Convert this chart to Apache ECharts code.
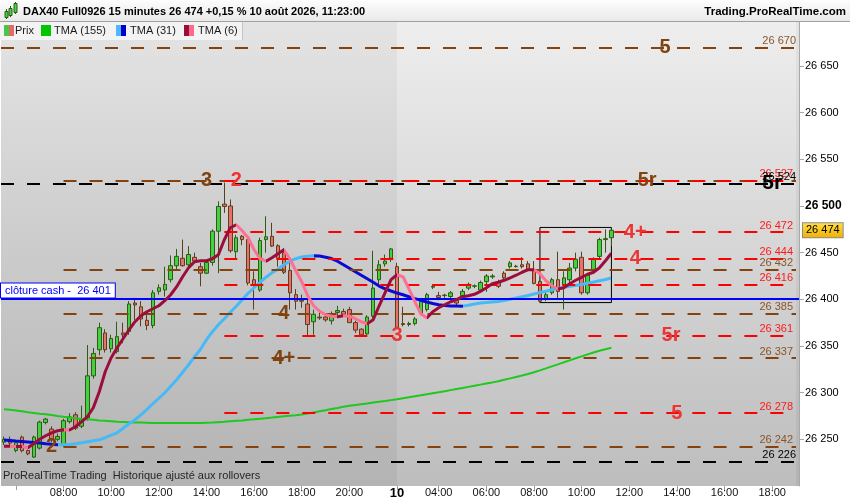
<!DOCTYPE html>
<html><head><meta charset="utf-8">
<script src="https://cdn.jsdelivr.net/npm/echarts@6/dist/echarts.min.js"></script>
<style>html,body{margin:0;padding:0;background:#fff}#c{width:850px;height:500px}</style>
</head><body><div id="c"></div>
<script>
const FONT = '"Liberation Sans", Arial, sans-serif';

// ---------- time categories (15 min bars) ----------
function buildTimes(a, b) {
  const [ah, am] = a.split(':').map(Number), [bh, bm] = b.split(':').map(Number);
  const out = [];
  for (let m = ah * 60 + am; m <= bh * 60 + bm; m += 15)
    out.push(String(Math.floor(m / 60)).padStart(2, '0') + ':' + String(m % 60).padStart(2, '0'));
  return out;
}
const day9Times = buildTimes('05:30', '21:45');
const day10Times = buildTimes('02:15', '19:00');
const categories = day9Times.map(t => '9 ' + t).concat(day10Times.map(t => '10 ' + t));
const dayStartCat = '10 02:15';
const hiddenLabelCats = ['9 06:00'];

// ---------- prices [open, close, low, high] ----------
const priceOHLC = [
[26247,26250,26244,26253],[26250,26246,26243,26253],[26238,26246.6,26236,26248],[26252.4,26237.8,26236,26254],
[26238,26234.5,26233,26239],[26231,26252.4,26230,26254],[26240.6,26268.5,26239,26270],[26268,26271.7,26266,26273],
[26261,26250.3,26247,26264],[26250,26253,26248,26256],[26244,26270,26242,26272],[26269,26274,26267,26278],
[26276.3,26262,26260,26279],[26264,26271,26262,26286],[26273,26318,26270,26351],[26318,26342,26315,26348],
[26346,26369.6,26340,26375],[26364,26346,26343,26368],[26347,26358,26343,26362],[26344,26360,26342,26376],
[26364,26362,26353,26375],[26365.6,26395,26362,26398],[26396,26394,26378,26401.5],[26392,26379,26371,26398],
[26377.5,26372,26367,26384],[26372,26407,26369,26410],[26408.5,26412.4,26405,26416],[26410,26416,26403,26435],
[26421,26436,26418,26447],[26436,26446,26432,26454],[26444,26436,26435,26464],[26437,26448,26432,26457],
[26445,26441,26439,26450],[26435,26428,26414,26439],[26428,26439.5,26427,26442],[26439.5,26473,26436,26475],
[26473,26499.5,26428,26505],[26502,26499.5,26492.5,26525],[26500,26452,26450,26507],[26451,26466,26444,26469],
[26467.5,26464,26458,26469],[26464,26417.5,26415,26466],[26421,26415.6,26389,26430],[26410,26463,26408,26466],
[26464,26467,26450,26489],[26467.5,26457,26456,26482],[26457.4,26444,26435,26459],[26450,26429,26427,26455],
[26431,26407,26389,26442],[26405,26398,26389,26411],[26399,26398,26391,26405],[26395,26373,26360,26399.6],
[26376,26384,26362,26389],[26381,26380,26378,26389],[26381,26378,26376,26383],[26377,26382,26373,26387],
[26386,26388,26382,26393],[26387,26384,26382,26390],[26389,26375,26375,26392],[26375,26367,26364,26377],
[26368,26362,26360,26369],[26363,26381,26360,26383],[26382,26412,26380,26452],[26421,26437,26416,26442],
[26438,26441,26435,26448],[26444,26454,26440,26455],[26435,26370,26369,26439],[26374,26373,26371,26392],
[26373,26374,26371,26376],[26374,26379,26372,26381],[26385,26398,26383,26400],[26389,26405,26387,26407],
[26413,26414,26411,26416],[26404,26402,26399,26408],[26404,26404.5,26401,26406],[26403,26407,26400,26409],
[26399,26396,26393,26400],[26404,26408.5,26402,26411],[26412,26416,26410,26418],[26414,26414.5,26412,26416],
[26410,26418,26408,26420],[26419,26425,26408,26427],[26424,26425,26422,26427],[26418,26414,26412,26421],
[26428,26423,26421,26430],[26435,26439,26433,26441],[26435,26435.5,26434,26437],[26437,26435,26433,26445],
[26438,26432,26430,26441],[26432,26417,26416,26441],[26419,26398,26397,26421],[26400,26405,26398,26408],
[26407,26421,26405,26423],[26421,26408.5,26400,26451],[26415.6,26423,26389,26430],[26421,26433.5,26414,26439],
[26433.5,26443,26430,26450],[26445,26407,26405,26451],[26407,26426,26405,26428],[26432,26443,26428,26445],
[26446,26464,26444,26466],[26464,26465,26450,26475],[26466,26474,26457,26475.5]
];

// ---------- moving averages ----------
const tma6 = [26242.6,26242.6,26242.4,26242.4,26241.0,26245.3,26250.1,26253.8,26257.0,26259.2,
26260.2,26260.0,26263.5,26268.8,26274.2,26283.8,26301.0,26322.4,26337.4,26348.1,
26357.8,26367.4,26376.0,26382.4,26386.7,26389.9,26393.1,26398.5,26404.9,26413.5,
26424.2,26433.8,26440.3,26441.3,26441.3,26443.5,26447.8,26463.8,26476.7,26479.9,
26473.5,26466.0,26453.1,26443.5,26440.8,26444.6,26448.8,26453.1,26443.5,26430.6,
26418.8,26403.8,26393.1,26387.2,26383.5,26381.9,26381.3,26382.4,26381.9,26379.2,
26376.0,26373.8,26378.1,26393.1,26407.1,26421.0,26426.3,26424.2,26411.3,26397.4,
26384.5,26379.9,26386.7,26391.0,26394.2,26397.4,26399.6,26402.8,26403.8,26405.4,
26408.4,26412.4,26416.7,26418.3,26420.4,26423.1,26425.8,26429.0,26431.7,26431.8,
26427.4,26419.9,26414.6,26411.0,26412.4,26416.7,26420.4,26423.6,26426.9,26429.0,
26433.8,26441.3,26449.4];
const tma31 = [26249.3,26248.7,26248.1,26247.6,26247.1,26246.6,26246.0,26245.3,26244.7,26244.2,
26244.3,26244.5,26245.3,26246.3,26247.4,26248.5,26249.5,26251.7,26254.4,26257.0,
26261.9,26266.7,26271.0,26276.3,26282.2,26288.1,26294.0,26299.9,26306.9,26313.8,
26321.9,26329.9,26338.5,26346.5,26356.7,26365.3,26372.8,26379.2,26386.2,26392.6,
26399.6,26406.5,26412.4,26418.3,26423.7,26428.5,26432.2,26437.1,26440.8,26443.5,
26445.3,26446.2,26446.7,26446.4,26445.1,26443.7,26440.8,26437.1,26433.3,26429.5,
26425.8,26422.0,26418.3,26414.2,26411.3,26408.9,26406.7,26404.9,26402.8,26400.8,
26399.0,26397.1,26395.6,26394.2,26393.3,26392.9,26392.8,26392.7,26393.6,26394.9,
26396.0,26396.5,26397.1,26397.6,26398.7,26400.1,26401.4,26402.8,26404.1,26405.7,
26407.3,26408.7,26410.3,26411.5,26412.9,26414.0,26414.8,26415.8,26417.2,26418.5,
26419.9,26421.2,26422.8];
const tma155 = [26282.1,26281.6,26281.0,26280.1,26279.0,26278.2,26277.4,26276.8,26276.1,26275.1,
26274.2,26273.4,26272.7,26271.9,26271.4,26270.9,26270.3,26269.8,26269.4,26268.8,
26268.5,26268.2,26268.1,26268.0,26267.8,26267.6,26267.5,26267.4,26267.4,26267.4,
26267.4,26267.4,26267.4,26267.5,26267.8,26268.0,26268.4,26268.8,26269.3,26269.8,
26270.3,26270.9,26271.4,26272.0,26272.7,26273.3,26274.0,26274.6,26275.3,26275.9,
26276.6,26277.6,26278.8,26280.0,26281.1,26282.4,26283.6,26284.9,26286.0,26286.8,
26287.7,26288.5,26289.4,26290.3,26291.1,26292.0,26292.9,26294.0,26295.1,26296.2,
26297.2,26298.3,26299.4,26300.4,26301.5,26302.7,26303.9,26305.0,26306.2,26307.4,
26308.6,26309.8,26311.0,26312.3,26313.8,26315.3,26316.8,26318.3,26320.0,26321.9,
26323.9,26326.0,26328.2,26330.3,26332.5,26334.6,26336.8,26338.9,26341.0,26343.0,
26344.9,26346.6,26348.1];

// ---------- horizontal levels ----------
const levelValues = [26670, 26527, 26527, 26524, 26472, 26444, 26432, 26416, 26385, 26361, 26337, 26278, 26242, 26226];
const levelKinds  = ['brown','brown','red','black','red','red','brown','red','brown','red','brown','red','brown','black'];
const levelStart  = [0, 10, 37, 0, 37, 37, 10, 37, 10, 37, 10, 37, 10, 0];
const levelShowTag = [true, false, true, true, true, true, true, true, true, true, true, true, true, true];
const cashValue = 26401;

// pivot tags on the levels
const pivotText  = ['5', '5r', '5r', '3', '2', '4+', '4', '4', '3', '5r', '4+', '5', '2'];
const pivotIndex = [111, 108, 129, 34, 39, 106, 106, 47, 66, 112, 47, 113, 8];
const pivotValue = [26670, 26527, 26524, 26527, 26527, 26472, 26444, 26385, 26361, 26361, 26337, 26278, 26242];
const pivotKind  = ['brown','brown','black','brown','red','red','red','brown','red','red','brown','red','brown'];

// box drawn around recent bars
const boxFrom = [90, 26477];
const boxTo = [102, 26396.5];

const yTicks = [26250, 26300, 26350, 26400, 26450, 26500, 26550, 26600, 26650];
const Y_MIN = 26200, Y_MAX = 26700;

// ---------- helpers ----------
const fmtNum = v => String(v).replace(/\B(?=(\d{3})+(?!\d))/g, ' ');
const lastIndex = categories.length - 1;
const day10Index = categories.indexOf(dayStartCat);
const lastClose = priceOHLC[priceOHLC.length - 1][1];

function slopePieces(arr, up, down) {
  const pieces = [];
  let s = 0, dir = arr[1] >= arr[0];
  for (let i = 2; i < arr.length; i++) {
    const d = arr[i] >= arr[i - 1];
    if (d !== dir) { pieces.push({ gte: s, lt: i - 1, color: dir ? up : down }); s = i - 1; dir = d; }
  }
  pieces.push({ gte: s, lte: arr.length - 1, color: dir ? up : down });
  return pieces;
}
function isEvenHour(val) {
  const t = val.split(' ')[1];
  const [h, m] = t.split(':');
  return m === '00' && (+h % 2 === 0);
}

const lineColor = { brown: '#86420c', red: '#ff0000', black: '#000000' };
const tagColor = { brown: '#8a5526', red: '#ff1a1a', black: '#000000' };
const pivotColor = { brown: '#7e4310', red: '#ec3434', black: '#000000' };

const levelData = levelValues.map((v, k) => {
  const kind = levelKinds[k];
  const style = { color: lineColor[kind], width: 2, type: [13, 13] };
  const label = levelShowTag[k]
    ? { show: true, position: 'insideEndTop', formatter: fmtNum(v), color: tagColor[kind], fontSize: 11, fontFamily: FONT, distance: [3, 1] }
    : { show: false };
  if (levelStart[k] === 0) return { yAxis: v, lineStyle: style, label };
  return [{ coord: [levelStart[k], v], lineStyle: style, label }, { coord: [lastIndex, v] }];
});
levelData.push({
  yAxis: cashValue,
  lineStyle: { color: '#0000ff', width: 2, type: 'solid' },
  label: { show: true, position: 'insideStartTop', formatter: 'clôture cash -  ' + fmtNum(cashValue),
    color: '#0000ff', backgroundColor: '#ffffff', borderColor: '#0000ff', borderWidth: 1,
    padding: [2, 4, 1, 4], fontSize: 11, fontFamily: FONT, distance: [0, 1] }
});

const pivotData = pivotText.map((t, k) => ({
  value: [pivotIndex[k], pivotValue[k], t],
  label: { color: pivotColor[pivotKind[k]], fontSize: pivotKind[k] === 'black' ? 21 : 20 }
}));

const G = echarts.graphic;
const chart = echarts.init(document.getElementById('c'), null, { renderer: 'canvas' });

const legendItems = [
  { x0: 0, x1: 37, text: 'Prix', tx: 15, c1: '#46c846', c2: '#e46a6a' },
  { x0: 37, x1: 112, text: 'TMA (155)', tx: 54, c1: '#00c800', c2: '#00c800' },
  { x0: 112, x1: 180, text: 'TMA (31)', tx: 130, c1: '#4db8ff', c2: '#0000cc' },
  { x0: 180, x1: 242, text: 'TMA (6)', tx: 198, c1: '#9b0d3a', c2: '#ff6a8c' }
];
const graphics = [
  { type: 'rect', shape: { x: 0, y: 0, width: 850, height: 21 }, z: 100,
    style: { fill: new G.LinearGradient(0, 0, 0, 1, [{ offset: 0, color: '#fdfdfd' }, { offset: 1, color: '#e9e9e9' }]) } },
  { type: 'line', shape: { x1: 0, y1: 21.5, x2: 850, y2: 21.5 }, style: { stroke: '#a0a0a0', lineWidth: 1 }, z: 100 },
  // icon
  { type: 'line', shape: { x1: 6.5, y1: 9, x2: 6.5, y2: 19 }, style: { stroke: '#2a5a10', lineWidth: 1 }, z: 101 },
  { type: 'rect', shape: { x: 5, y: 11.5, width: 3, height: 6 }, style: { fill: '#4cd04c', stroke: '#2a5a10', lineWidth: 1 }, z: 101 },
  { type: 'line', shape: { x1: 10.5, y1: 6, x2: 10.5, y2: 17 }, style: { stroke: '#2a5a10', lineWidth: 1 }, z: 101 },
  { type: 'rect', shape: { x: 9, y: 8.5, width: 3, height: 7 }, style: { fill: '#4cd04c', stroke: '#2a5a10', lineWidth: 1 }, z: 101 },
  { type: 'line', shape: { x1: 15.5, y1: 2, x2: 15.5, y2: 14 }, style: { stroke: '#2a5a10', lineWidth: 1 }, z: 101 },
  { type: 'rect', shape: { x: 14, y: 3.5, width: 3, height: 9 }, style: { fill: '#4cd04c', stroke: '#2a5a10', lineWidth: 1 }, z: 101 },
  { type: 'text', x: 23, y: 11.5, z: 101,
    style: { text: 'DAX40 Full0926 15 minutes 26 474 +0,15 % 10 août 2026, 11:23:00', fill: '#000', font: 'bold 11px ' + FONT, textVerticalAlign: 'middle' } },
  { type: 'text', x: 846, y: 11.5, z: 101,
    style: { text: 'Trading.ProRealTime.com', fill: '#000', font: 'bold 11.5px ' + FONT, textAlign: 'right', textVerticalAlign: 'middle' } },
  { type: 'text', x: 3, y: 476, z: 101,
    style: { text: 'ProRealTime Trading  Historique ajusté aux rollovers', fill: '#262626', font: '11px ' + FONT, textVerticalAlign: 'middle' } }
];
legendItems.forEach(it => {
  graphics.push({ type: 'rect', shape: { x: it.x0, y: 22, width: it.x1 - it.x0, height: 18 }, style: { fill: '#f3f3f3' }, z: 100 });
  graphics.push({ type: 'line', shape: { x1: it.x1 + 0.5, y1: 22, x2: it.x1 + 0.5, y2: 40 }, style: { stroke: '#c4c4c4', lineWidth: 1 }, z: 100 });
  graphics.push({ type: 'rect', shape: { x: it.x0 + 4, y: 25, width: 5, height: 11 }, style: { fill: it.c1 }, z: 101 });
  graphics.push({ type: 'rect', shape: { x: it.x0 + 9, y: 25, width: 5, height: 11 }, style: { fill: it.c2 }, z: 101 });
  graphics.push({ type: 'text', x: it.tx, y: 31, z: 101, style: { text: it.text, fill: '#1a1a1a', font: '11px ' + FONT, textVerticalAlign: 'middle' } });
});

const option = {
  animation: false,
  backgroundColor: '#ffffff',
  textStyle: { fontFamily: FONT },
  grid: {
    left: 1, right: 51, top: 19.3, bottom: 13.9, show: true, borderWidth: 0,
    backgroundColor: new G.LinearGradient(0, 0, 0, 1, [{ offset: 0, color: '#e4e4e4' }, { offset: 1, color: '#b3b3b3' }])
  },
  xAxis: {
    type: 'category', data: categories, boundaryGap: true,
    axisLine: { show: false },
    axisTick: { show: true, alignWithLabel: true, length: 4, lineStyle: { color: '#9a9a9a' },
      interval: (i, v) => v === dayStartCat || isEvenHour(v) },
    axisLabel: {
      interval: (i, v) => v === dayStartCat || (isEvenHour(v) && hiddenLabelCats.indexOf(v) < 0),
      margin: 1, color: '#111', fontSize: 11, fontFamily: FONT,
      formatter: v => v === dayStartCat ? '{b|10}' : v.split(' ')[1],
      rich: { b: { fontWeight: 'bold', fontSize: 13, color: '#000', fontFamily: FONT } }
    },
    splitLine: { show: false }
  },
  yAxis: {
    type: 'value', position: 'right', min: Y_MIN, max: Y_MAX, interval: 50, scale: true,
    axisLine: { show: true, lineStyle: { color: '#a8a8a8' } },
    axisTick: { show: true, length: 5, lineStyle: { color: '#a8a8a8' }, customValues: yTicks },
    axisLabel: {
      customValues: yTicks, margin: 6, color: '#000', fontSize: 11, fontFamily: FONT,
      formatter: v => (v < 26250 || v > 26650) ? '' : (v === 26500 ? '{b|' + fmtNum(v) + '}' : fmtNum(v)),
      rich: { b: { fontWeight: 'bold', fontSize: 12, color: '#000', fontFamily: FONT } }
    },
    splitLine: { show: false }
  },
  visualMap: [
    { show: false, type: 'piecewise', seriesIndex: 4, dimension: 0, pieces: slopePieces(tma31, '#46b9f7', '#0a0ad0') },
    { show: false, type: 'piecewise', seriesIndex: 5, dimension: 0, pieces: slopePieces(tma6, '#9b0d3a', '#ff6f92') }
  ],
  series: [
    { type: 'line', data: [], z: 1, silent: true,
      markArea: { silent: true,
        itemStyle: { color: new G.LinearGradient(0, 0, 0, 1, [{ offset: 0, color: '#eeeeee' }, { offset: 1, color: '#bdbdbd' }]) },
        data: [[{ xAxis: day10Index, yAxis: Y_MAX }, { xAxis: lastIndex, yAxis: Y_MIN }]] } },
    { type: 'candlestick', data: priceOHLC, z: 2, barWidth: 4, silent: true,
      itemStyle: { color: '#43d043', color0: '#ea6f6f', borderColor: '#2d5c12', borderColor0: '#5a3f18', borderWidth: 1 },
      markArea: { silent: true, itemStyle: { color: 'rgba(0,0,0,0)', borderColor: '#000', borderWidth: 1 },
        data: [[{ xAxis: boxFrom[0], yAxis: boxFrom[1] }, { xAxis: boxTo[0], yAxis: boxTo[1] }]] } },
    { type: 'line', data: [], z: 3, silent: true,
      markLine: { silent: true, symbol: ['none', 'none'], label: { show: false }, emphasis: { disabled: true }, data: levelData } },
    { type: 'line', data: tma155, z: 4, showSymbol: false, silent: true, lineStyle: { color: '#1ec81e', width: 2 } },
    { type: 'line', data: tma31, z: 4, showSymbol: false, silent: true, lineStyle: { width: 3 } },
    { type: 'line', data: tma6, z: 5, showSymbol: false, silent: true, lineStyle: { width: 3 } },
    { type: 'scatter', data: pivotData, z: 6, silent: true, symbolSize: 0, itemStyle: { color: '#000', opacity: 1 },
      label: { show: true, position: 'inside', fontWeight: 'bold', fontFamily: FONT, textBorderWidth: 0, opacity: 1,
        formatter: p => p.value[2] } },
    { type: 'line', data: [], z: 7, silent: true,
      markLine: { silent: true, symbol: ['none', 'none'], emphasis: { disabled: true },
        data: [{ yAxis: lastClose, lineStyle: { color: 'rgba(0,0,0,0)', width: 1, type: 'solid' },
          label: { show: true, position: 'end', distance: 4, formatter: fmtNum(lastClose), color: '#000', fontSize: 11, fontFamily: FONT,
            backgroundColor: new G.LinearGradient(0, 0, 0, 1, [{ offset: 0, color: '#ffe04a' }, { offset: 1, color: '#f0b000' }]),
            borderColor: '#8a8a8a', borderWidth: 1, padding: [2, 3, 1, 3] } }] } }
  ],
  graphic: graphics
};
chart.setOption(option);
</script>
</body></html>
